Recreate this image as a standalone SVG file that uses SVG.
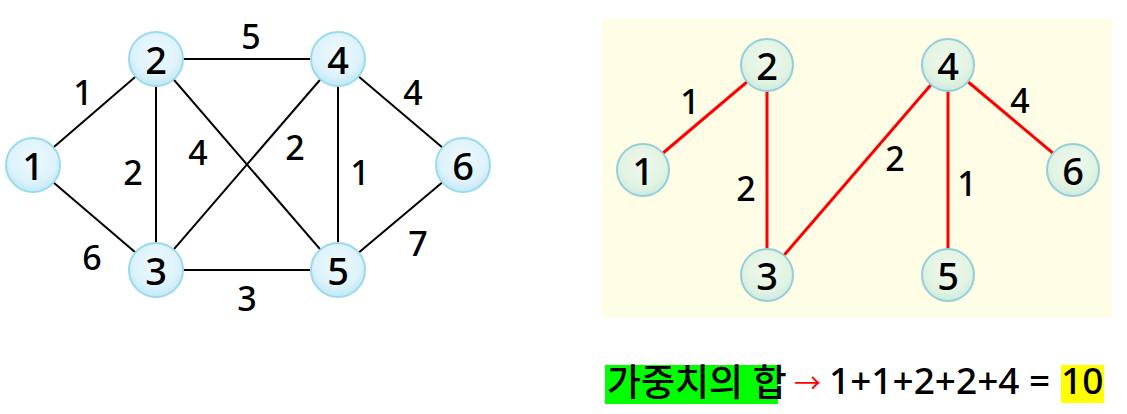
<svg xmlns="http://www.w3.org/2000/svg" width="1127" height="414" viewBox="0 0 1127 414">
<defs>
<radialGradient id="gb" cx="50%" cy="40%" r="60%">
<stop offset="0%" stop-color="#EEF9FE"/>
<stop offset="70%" stop-color="#DDF2FB"/>
<stop offset="100%" stop-color="#BFE8F6"/>
</radialGradient>
<radialGradient id="gg" cx="50%" cy="40%" r="60%">
<stop offset="0%" stop-color="#EEF8EC"/>
<stop offset="70%" stop-color="#E2F3E2"/>
<stop offset="100%" stop-color="#CDEAE0"/>
</radialGradient>
</defs>
<style>
.nb{fill:url(#gb);stroke:#9ADBEC;stroke-width:2}
.ng{fill:url(#gg);stroke:#92CFDA;stroke-width:2}
.nt{font-family:"Noto Sans","DejaVu Sans",sans-serif;font-size:38px;font-weight:500;fill:#000;text-anchor:middle;dominant-baseline:central}
.el{font-family:"Noto Sans","DejaVu Sans",sans-serif;font-size:34px;font-weight:500;fill:#000;text-anchor:middle;dominant-baseline:central}
.eb{stroke:#000;stroke-width:2;fill:none}
.er{stroke:#FF0000;stroke-width:3;fill:none}
.bt{font-family:"Noto Sans","Noto Sans CJK KR",sans-serif;font-size:37px;font-weight:500;fill:#000}
</style>
<rect x="602" y="19" width="510" height="299" fill="#FFFDE6"/>
<g id="connectors">
<line class="eb" x1="33" y1="165" x2="156" y2="59"/>
<line class="eb" x1="33" y1="165" x2="156" y2="270"/>
<line class="eb" x1="156" y1="59" x2="338" y2="59"/>
<line class="eb" x1="156" y1="59" x2="156" y2="270"/>
<line class="eb" x1="156" y1="59" x2="338" y2="270"/>
<line class="eb" x1="156" y1="270" x2="338" y2="59"/>
<line class="eb" x1="156" y1="270" x2="338" y2="270"/>
<line class="eb" x1="338" y1="59" x2="338" y2="270"/>
<line class="eb" x1="338" y1="59" x2="463" y2="165"/>
<line class="eb" x1="338" y1="270" x2="463" y2="165"/>
<line class="er" x1="643" y1="170" x2="767" y2="65"/>
<line class="er" x1="767" y1="65" x2="767" y2="275"/>
<line class="er" x1="767" y1="275" x2="948" y2="65"/>
<line class="er" x1="948" y1="65" x2="948" y2="275"/>
<line class="er" x1="948" y1="65" x2="1073" y2="170"/>
</g>
<g id="edge-labels">
<text class="el" x="83" y="92">1</text>
<text class="el" x="251" y="36">5</text>
<text class="el" x="413" y="92">4</text>
<text class="el" x="133" y="172">2</text>
<text class="el" x="198" y="152">4</text>
<text class="el" x="295" y="147">2</text>
<text class="el" x="360" y="172">1</text>
<text class="el" x="92" y="257">6</text>
<text class="el" x="247" y="298">3</text>
<text class="el" x="418" y="243">7</text>
<text class="el" x="690" y="101">1</text>
<text class="el" x="746" y="188">2</text>
<text class="el" x="895" y="158">2</text>
<text class="el" x="967" y="183">1</text>
<text class="el" x="1020" y="100">4</text>
</g>
<g id="L1"><circle class="nb" cx="33" cy="165" r="27"/><text class="nt" x="33" y="165">1</text></g>
<g id="L2"><circle class="nb" cx="156" cy="59" r="27"/><text class="nt" x="156" y="59">2</text></g>
<g id="L3"><circle class="nb" cx="156" cy="270" r="27"/><text class="nt" x="156" y="270">3</text></g>
<g id="L4"><circle class="nb" cx="338" cy="59" r="27"/><text class="nt" x="338" y="59">4</text></g>
<g id="L5"><circle class="nb" cx="338" cy="270" r="27"/><text class="nt" x="338" y="270">5</text></g>
<g id="L6"><circle class="nb" cx="463" cy="165" r="27"/><text class="nt" x="463" y="165">6</text></g>
<g id="R1"><circle class="ng" cx="643" cy="170" r="26"/><text class="nt" x="643" y="170">1</text></g>
<g id="R2"><circle class="ng" cx="767" cy="65" r="26"/><text class="nt" x="767" y="65">2</text></g>
<g id="R3"><circle class="ng" cx="767" cy="275" r="26"/><text class="nt" x="767" y="275">3</text></g>
<g id="R4"><circle class="ng" cx="948" cy="65" r="26"/><text class="nt" x="948" y="65">4</text></g>
<g id="R5"><circle class="ng" cx="948" cy="275" r="26"/><text class="nt" x="948" y="275">5</text></g>
<g id="R6"><circle class="ng" cx="1073" cy="170" r="26"/><text class="nt" x="1073" y="170">6</text></g>
<g id="sum">
<rect x="605" y="365" width="173" height="39" fill="#00FF00"/>
<rect x="1061" y="365" width="43" height="38" fill="#FFFF00"/>
<text class="bt" x="607" y="396" font-family="Noto Sans CJK KR" font-size="32">가중치의 합</text>
<text x="794" y="393" fill="#FF0000" font-family="Noto Sans CJK KR" font-size="27">→</text>
<text class="bt" x="829" y="394">1+1+2+2+4 =</text>
<text class="bt" x="1061" y="394">10</text>
</g>
</svg>
